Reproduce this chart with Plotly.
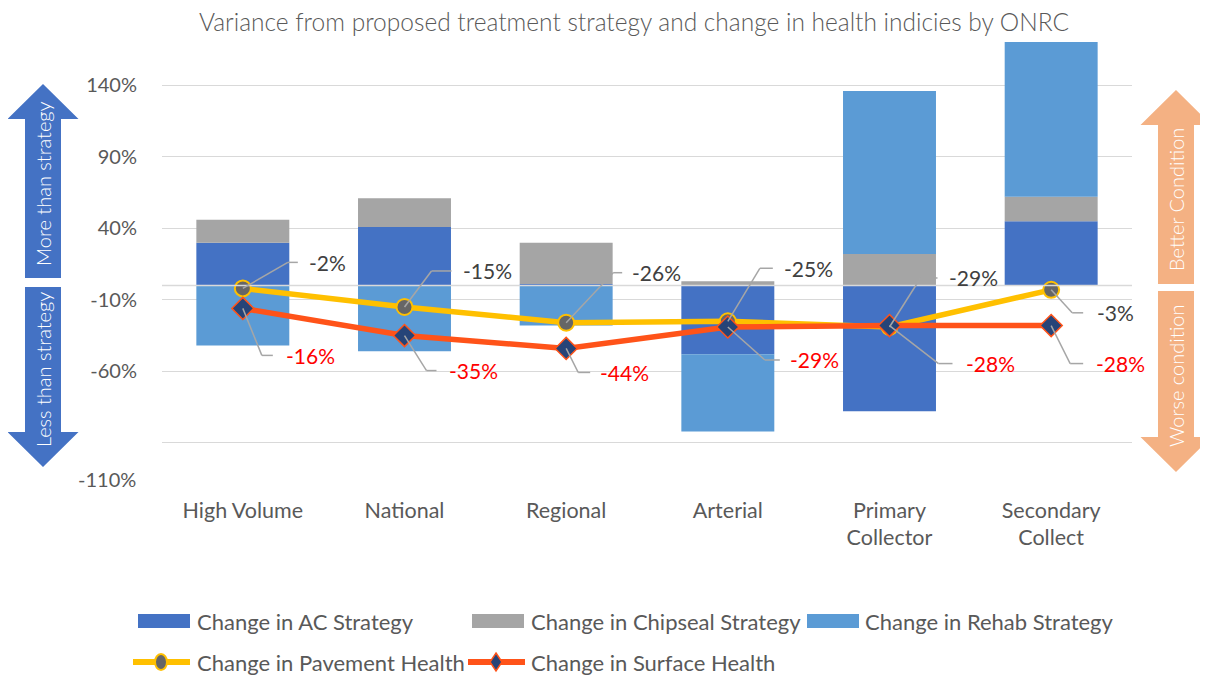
import plotly.graph_objects as go

# ---------------- data ----------------
categories = ["High Volume", "National", "Regional", "Arterial", "Primary Collector", "Secondary Collect"]
category_labels = ["High Volume", "National", "Regional", "Arterial", "Primary<br>Collector", "Secondary<br>Collect"]
series_names = ["Change in AC Strategy", "Change in Chipseal Strategy", "Change in Rehab Strategy",
                "Change in Pavement Health", "Change in Surface Health"]
ac_change = [30, 41, 1, -48, -88, 45]
chipseal_change = [16, 20, 29, 3, 22, 17]
rehab_change = [-42, -46, -28, -54, 114, 110]
pavement_health = [-2, -15, -26, -25, -29, -3]
surface_health = [-16, -35, -44, -29, -28, -28]
y_tick_values = [140, 90, 40, -10, -60, -110]
y_tick_labels = ["140%", "90%", "40%", "-10%", "-60%", "-110%"]
title_text = "Variance from proposed treatment strategy and change in health indicies by ONRC"
left_arrow_texts = ["More than strategy", "Less than strategy"]
right_arrow_texts = ["Better Condition", "Worse condition"]

# ---------------- style / layout constants ----------------
OFF = 8                      # page body margin offset
W, H = 1208 - OFF, 676 - OFF
L, R, T, B = 162 - OFF, 76, 42 - OFF, 197
PW, PH = W - L - R, H - T - B
Y_RANGE = [-135.3, 170.3]
X_RANGE = [-0.5, len(categories) - 0.5]
FONT = "Lato"
TXT = "#595959"
C_AC, C_CHIP, C_REHAB = "#4472C4", "#A5A5A5", "#5B9BD5"
C_PAV, C_SURF = "#FFC000", "#FF5319"
C_BLUE_ARROW, C_ORANGE_ARROW = "#4472C4", "#F4B183"
LEADER = "#A6A6A6"


def xp(px):
    # screen pixel -> paper fraction
    return (px - OFF - L) / PW


def yp(py):
    return (H - B - (py - OFF)) / PH


fig = go.Figure()
bar_values = [ac_change, chipseal_change, rehab_change]
bar_colors = [C_AC, C_CHIP, C_REHAB]
for name, vals, col in zip(series_names[:3], bar_values, bar_colors):
    fig.add_trace(go.Bar(x=categories, y=vals, name=name, marker=dict(color=col, line=dict(width=0))))

fig.add_trace(go.Scatter(
    x=categories, y=pavement_health, name=series_names[3], mode="lines+markers",
    line=dict(color=C_PAV, width=5.5),
    marker=dict(symbol="circle", size=16, color="#666666", line=dict(color=C_PAV, width=2))))
fig.add_trace(go.Scatter(
    x=categories, y=surface_health, name=series_names[4], mode="lines+markers",
    line=dict(color=C_SURF, width=5.5),
    marker=dict(symbol="diamond", size=17, color="#264478", line=dict(color=C_SURF, width=1.5))))

shapes = []
annotations = []

# zero line above bars
shapes.append(dict(type="line", xref="paper", yref="y", x0=0, x1=1, y0=0, y1=0,
                   line=dict(color="#D9D9D9", width=1.5), layer="above"))

# data labels with elbow leader lines: (elbow dx, elbow dy (screen, down +), horizontal len, label dx)
pav_leaders = [(45, -26, 10, 64), (27, -36, 20, 56), (47, -50, 9, 64),
               (32, -53, 13, 54), (31, -49, 17, 57), (21, 23, 11, 44)]
surf_leaders = [(19, 47, 11, 41), (22, 35, 10, 42), (12, 24, 12, 32),
                (37, 33, 15, 60), (49, 38, 14, 74), (19, 38, 13, 43)]


def add_labels(values, leaders, color):
    for cat, v, (ex, ey, hl, lx) in zip(categories, values, leaders):
        common = dict(type="line", xref="x", yref="y", xsizemode="pixel", ysizemode="pixel",
                      xanchor=cat, yanchor=v, line=dict(color=LEADER, width=1.5), layer="above")
        shapes.append(dict(common, x0=0, y0=0, x1=ex, y1=-ey))
        shapes.append(dict(common, x0=ex, y0=-ey, x1=ex + hl, y1=-ey))
        annotations.append(dict(xref="x", yref="y", x=cat, y=v, xshift=lx, yshift=-ey,
                                xanchor="left", yanchor="middle", showarrow=False,
                                text=f"{v}%", font=dict(family=FONT, size=21, color=color)))


add_labels(pavement_health, pav_leaders, "#404040")
add_labels(surface_health, surf_leaders, "#FF0000")

# bottom y label (drawn at the axis floor as in the source)
annotations.append(dict(xref="paper", yref="y", x=0, y=Y_RANGE[0], xshift=-24, xanchor="right",
                        yanchor="middle", showarrow=False, text=y_tick_labels[-1],
                        font=dict(family=FONT, size=20, color=TXT)))


# side arrows
def arrow_path(cx, top, bottom, shaft_half, head_half, head_len, up):
    if up:
        pts = [(cx - shaft_half, bottom), (cx - shaft_half, top + head_len), (cx - head_half, top + head_len),
               (cx, top), (cx + head_half, top + head_len), (cx + shaft_half, top + head_len),
               (cx + shaft_half, bottom)]
    else:
        pts = [(cx - shaft_half, top), (cx + shaft_half, top), (cx + shaft_half, bottom - head_len),
               (cx + head_half, bottom - head_len), (cx, bottom), (cx - head_half, bottom - head_len),
               (cx - shaft_half, bottom - head_len)]
    return "M " + " L ".join(f"{xp(a):.5f},{yp(b):.5f}" for a, b in pts) + " Z"


for cx, col, (t1, b1, t2, b2), texts, tc in [
    (43, C_BLUE_ARROW, (84, 278, 287, 467), left_arrow_texts, (184, 370)),
    (1176, C_ORANGE_ARROW, (90, 284, 291, 472), right_arrow_texts, (200, 376)),
]:
    shapes.append(dict(type="path", xref="paper", yref="paper", path=arrow_path(cx, t1, b1, 18, 35.5, 35, True),
                       fillcolor=col, line=dict(width=0), layer="above"))
    shapes.append(dict(type="path", xref="paper", yref="paper", path=arrow_path(cx, t2, b2, 18, 35.5, 35, False),
                       fillcolor=col, line=dict(width=0), layer="above"))
    for txt, cy in zip(texts, tc):
        annotations.append(dict(xref="paper", yref="paper", x=xp(cx), y=yp(cy), text=txt, textangle=-90,
                                showarrow=False, xanchor="center", yanchor="middle",
                                font=dict(family=FONT, size=20, color="white", weight=300)))

# manual legend
leg_rows = [(621, [(138, 195), (472, 529), (807, 863)]), (662, [(133, 195), (468, 529)])]
idx = 0
for ry, items in leg_rows:
    for sx, tx in items:
        if idx < 3:
            shapes.append(dict(type="rect", xref="paper", yref="paper", x0=xp(sx), x1=xp(sx + 52),
                               y0=yp(ry + 7), y1=yp(ry - 7), fillcolor=bar_colors[idx], line=dict(width=0)))
        else:
            lc = C_PAV if idx == 3 else C_SURF
            shapes.append(dict(type="line", xref="paper", yref="paper", x0=xp(sx), x1=xp(sx + 57),
                               y0=yp(ry), y1=yp(ry), line=dict(color=lc, width=6)))
            mx = sx + 28
            if idx == 3:
                shapes.append(dict(type="circle", xref="paper", yref="paper", x0=xp(mx - 6), x1=xp(mx + 6),
                                   y0=yp(ry + 8), y1=yp(ry - 8), fillcolor="#666666",
                                   line=dict(color=C_PAV, width=2)))
            else:
                pts = [(mx, ry - 9), (mx + 6, ry), (mx, ry + 9), (mx - 6, ry)]
                shapes.append(dict(type="path", xref="paper", yref="paper",
                                   path="M " + " L ".join(f"{xp(a):.5f},{yp(b):.5f}" for a, b in pts) + " Z",
                                   fillcolor="#264478", line=dict(color=C_SURF, width=1.5)))
        annotations.append(dict(xref="paper", yref="paper", x=xp(tx), y=yp(ry), xanchor="left",
                                yanchor="middle", showarrow=False, text=series_names[idx],
                                font=dict(family=FONT, size=22, color=TXT)))
        idx += 1

fig.update_layout(
    width=W, height=H,
    margin=dict(l=L, r=R, t=T, b=B, autoexpand=False),
    barmode="relative", bargap=0.425,
    plot_bgcolor="white", paper_bgcolor="white",
    showlegend=False,
    font=dict(family=FONT, color=TXT, size=20),
    title=dict(text=title_text, x=(634 - OFF) / W, xanchor="center", y=1 - (22 - OFF) / H, yanchor="middle",
               yref="container", font=dict(family=FONT, size=24.5, color=TXT, weight=300)),
    shapes=shapes, annotations=annotations,
)
fig.update_yaxes(range=Y_RANGE, tickvals=y_tick_values, ticktext=y_tick_labels[:-1] + [""],
                 showgrid=True, gridcolor="#D9D9D9", gridwidth=1, zeroline=False, showline=False,
                 ticks="", ticklabelstandoff=24, tickfont=dict(family=FONT, size=20, color=TXT))
fig.update_xaxes(range=X_RANGE, autorange=False, tickvals=categories, ticktext=category_labels,
                 showgrid=False, zeroline=False, showline=False, ticks="", ticklabelstandoff=16,
                 tickfont=dict(family=FONT, size=21.5, color=TXT))

fig.write_html("out.html")
